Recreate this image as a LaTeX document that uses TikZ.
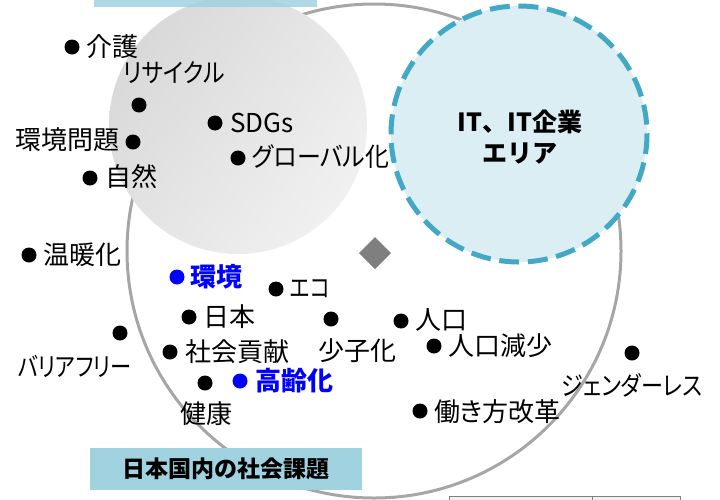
\documentclass[tikz,border=0pt]{standalone}
\usepackage{fontspec}
\usepackage{graphicx}
\usetikzlibrary{shadings}
\setmainfont{Noto Sans CJK JP}[RawFeature={+palt}]
\newfontfamily\fullwidthfont{Noto Sans CJK JP}
\newcommand\kwscale[2]{\scalebox{#1}[1]{#2}}
\definecolor{ringgray}{HTML}{A6A6A6}
\definecolor{itfill}{HTML}{DBEEF4}
\definecolor{itdash}{HTML}{42A8C6}
\definecolor{labelblue}{HTML}{A0D2DF}
\definecolor{kwblue}{HTML}{0000FF}
\definecolor{diagray}{HTML}{7F7F7F}
\tikzset{
  dot/.style={circle, fill=black, inner sep=0pt, minimum size=15pt},
  bluedot/.style={circle, fill=kwblue, inner sep=0pt, minimum size=15pt},
  kw/.style={anchor=west, inner sep=0pt, font=\fontsize{26}{28}\selectfont},
  kwc/.style={anchor=center, inner sep=0pt, font=\fontsize{26}{28}\selectfont},
  kwb/.style={anchor=west, inner sep=0pt, text=kwblue, font=\fontsize{26}{28}\selectfont\bfseries},
}
\begin{document}
\begin{tikzpicture}[x=1pt,y=-1pt]
\useasboundingbox (0,0) rectangle (720,499);
% big circle
\draw[ringgray, line width=3pt] (374,251) circle[radius=247];
% gray circle
\shade[upper left=black!17, lower right=black!4, upper right=black!9, lower left=black!11] (238,125) circle[radius=129];
% top (cut) label box
\fill[labelblue, opacity=0.85] (94,-6) rectangle (317,7);
% IT circle
\draw[itdash, fill=itfill, line width=5pt, dash pattern=on 20pt off 8.7pt] (519,134) circle[radius=128];
\node[align=center, font=\fullwidthfont\fontsize{25}{31}\selectfont\bfseries] (it) at (520,137) {IT、IT企業\\エリア};
% diamond
\fill[diagray] (375,237) -- (391,253) -- (375,269) -- (359,253) -- cycle;
% bottom label
\node[fill=labelblue, minimum width=272pt, minimum height=42pt, inner sep=0pt, font=\fontsize{23}{26}\selectfont\bfseries] (lbl) at (226,469) {日本国内の社会課題};
% table edge at bottom right
\fill[black!6] (449,496) rectangle (680,500);
\draw[gray, line width=1pt] (449,500) -- (449,496) -- (680,496) -- (680,500);
\draw[gray, line width=1pt] (592,496) -- (592,500);
% keywords
\node[dot] (d1) at (72,47) {};   \node[kw] (t1) at (86,47) {介護};
\node[kwc] (t2) at (174,73) {\kwscale{0.88}{リサイクル}}; \node[dot] (d2) at (139,105) {};
\node[kw, anchor=east] (t3) at (120,140) {環境問題}; \node[dot] (d3) at (133,142) {};
\node[dot] (d4) at (215,123) {}; \node[kw] (t4) at (230,123) {SDGs};
\node[dot] (d5) at (238,158) {}; \node[kw] (t5) at (252,157) {\kwscale{0.92}{グローバル化}};
\node[dot] (d6) at (90,178) {}; \node[kw] (t6) at (105,177) {自然};
\node[dot] (d7) at (29,255) {}; \node[kw] (t7) at (43,255) {温暖化};
\node[bluedot] (d8) at (177,277) {}; \node[kwb] (t8) at (190,277) {環境};
\node[dot] (d9) at (276,289) {}; \node[kw] (t9) at (290,289) {\kwscale{0.8}{エコ}};
\node[dot] (d10) at (189,317) {}; \node[kw] (t10) at (203,317) {日本};
\node[dot] (d11) at (331,319) {}; \node[kwc] (t11) at (357,351) {少子化};
\node[dot] (d12) at (401,321) {}; \node[kw] (t12) at (415,320) {人口};
\node[dot] (d13) at (434,346) {}; \node[kw] (t13) at (448,346) {人口減少};
\node[dot] (d14) at (120,333) {}; \node[kwc] (t14) at (75,366) {\kwscale{0.82}{バリアフリー}};
\node[dot] (d15) at (170,352) {}; \node[kw] (t15) at (185,352) {社会貢献};
\node[dot] (d16) at (205,383) {}; \node[kwc] (t16) at (206,414) {健康};
\node[bluedot] (d17) at (240,381) {}; \node[kwb] (t17) at (255,381) {高齢化};
\node[dot] (d18) at (632,353) {}; \node[kwc] (t18) at (632,385) {\kwscale{0.85}{ジェンダーレス}};
\node[dot] (d19) at (420,411) {}; \node[kw] (t19) at (434,412) {働き方改革};
\end{tikzpicture}
\end{document}
